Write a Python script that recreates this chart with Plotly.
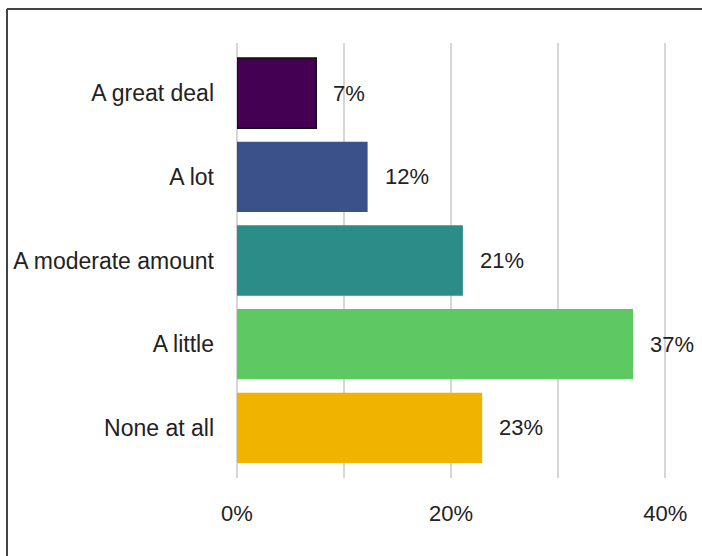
import plotly.graph_objects as go

categories = ["A great deal", "A lot", "A moderate amount", "A little", "None at all"]
values = [7.4, 12.2, 21.1, 37.0, 22.9]
value_labels = ["7%", "12%", "21%", "37%", "23%"]
colors = ["#440154", "#3b5288", "#2c8c87", "#5ec863", "#f0b400"]
tick_vals = [0, 20, 40]
tick_text = ["0%", "20%", "40%"]

W, H = 702, 556
ml, mr, mt, mb = 237, 10, 43, 78
pw, ph = W - ml - mr, H - mt - mb

line_w = [1.5, 0, 0, 0, 0]

fig = go.Figure()
fig.add_trace(go.Bar(
    y=categories, x=values, orientation="h",
    marker=dict(color=colors, line=dict(color="#111111", width=line_w)),
    width=0.84, hoverinfo="skip",
))

for c, v, t in zip(categories, values, value_labels):
    fig.add_annotation(x=v, y=c, text=t, showarrow=False, xanchor="left",
                       xshift=15, font=dict(family="Liberation Sans", size=22, color="#222222"))

# frame lines (left and top)
def px_x(p):
    return (p - ml) / pw

def px_y(p):
    return (H - mb - p) / ph

fig.add_shape(type="line", xref="paper", yref="paper",
              x0=px_x(7), x1=px_x(7), y0=px_y(9), y1=px_y(H + 5),
              line=dict(color="#444444", width=2))
fig.add_shape(type="line", xref="paper", yref="paper",
              x0=px_x(7), x1=px_x(W + 5), y0=px_y(9), y1=px_y(9),
              line=dict(color="#444444", width=2))

fig.update_layout(
    width=W, height=H,
    margin=dict(l=ml, r=mr, t=mt, b=mb),
    paper_bgcolor="white", plot_bgcolor="white",
    showlegend=False,
    font=dict(family="Liberation Sans", size=22, color="#222222"),
    xaxis=dict(range=[0, 42.5], tickvals=tick_vals, ticktext=tick_text,
               showgrid=True, gridcolor="#d6d6d6", gridwidth=1.5,
               zeroline=True, zerolinecolor="#d6d6d6", zerolinewidth=1.5,
               showline=False, ticklabelstandoff=20,
               tickfont=dict(size=22),
               minor=dict(dtick=10, showgrid=True, gridcolor="#d6d6d6", gridwidth=1.5)),
    yaxis=dict(range=[4.6, -0.6], showgrid=False, zeroline=False, showline=False,
               ticklabelstandoff=22, tickfont=dict(size=23),
               categoryorder="array", categoryarray=categories),
)

fig.write_html("out.html")
